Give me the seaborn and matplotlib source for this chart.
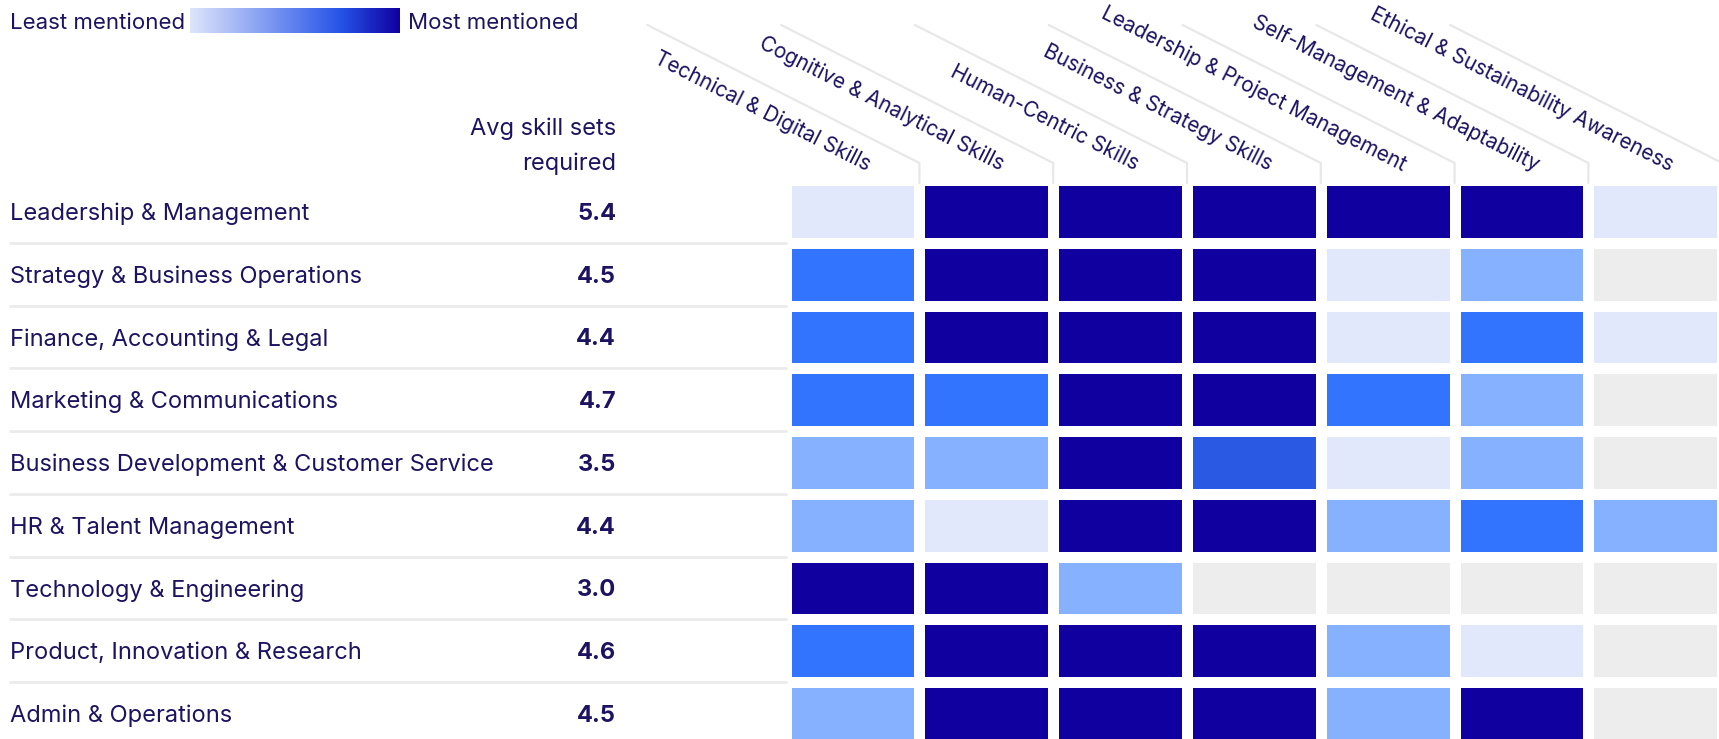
import numpy as np
import pandas as pd
import matplotlib
matplotlib.use("Agg")
import matplotlib.pyplot as plt
import seaborn as sns
from matplotlib.colors import ListedColormap, BoundaryNorm, LinearSegmentedColormap
from matplotlib import transforms
from matplotlib.lines import Line2D

# ---- data -------------------------------------------------------------
job_families = [
    "Leadership & Management",
    "Strategy & Business Operations",
    "Finance, Accounting & Legal",
    "Marketing & Communications",
    "Business Development & Customer Service",
    "HR & Talent Management",
    "Technology & Engineering",
    "Product, Innovation & Research",
    "Admin & Operations",
]
avg_skill_sets = [5.4, 4.5, 4.4, 4.7, 3.5, 4.4, 3.0, 4.6, 4.5]

skill_groups = [
    "Technical & Digital Skills",
    "Cognitive & Analytical Skills",
    "Human-Centric Skills",
    "Business & Strategy Skills",
    "Leadership & Project Management",
    "Self-Management & Adaptability",
    "Ethical & Sustainability Awareness",
]

# mention intensity per job family / skill group: 0 = not mentioned ... 5 = most mentioned
mention_level = [
    [1, 5, 5, 5, 5, 5, 1],
    [3, 5, 5, 5, 1, 2, 0],
    [3, 5, 5, 5, 1, 3, 1],
    [3, 3, 5, 5, 3, 2, 0],
    [2, 2, 5, 4, 1, 2, 0],
    [2, 1, 5, 5, 2, 3, 2],
    [5, 5, 2, 0, 0, 0, 0],
    [3, 5, 5, 5, 2, 1, 0],
    [2, 5, 5, 5, 2, 5, 0],
]

level_colors = ["#EDEDED", "#E2E8FC", "#85B1FF", "#3374FF", "#2A5AE3", "#10009F"]
legend_stops = [(0.0, "#DEE5FB"), (0.72, "#2553E8"), (1.0, "#0F00A0")]

TEXT = "#1C1361"
RULE = "#EBEBEB"

# ---- figure -----------------------------------------------------------
sns.set_theme(style="white")
plt.rcParams["font.family"] = ["Inter", "DejaVu Sans"]

W, H = 1719, 739
fig = plt.figure(figsize=(W / 100, H / 100), dpi=100)
fig.patch.set_facecolor("white")


def fx(px):
    return px / W


def fy(py):
    return 1 - py / H


# heatmap grid
grid_left, grid_right = 785.6, 1722.2
grid_top, grid_bottom = 180.0, 744.8
ax = fig.add_axes([fx(grid_left), fy(grid_bottom),
                   (grid_right - grid_left) / W, (grid_bottom - grid_top) / H])

df = pd.DataFrame(mention_level, index=job_families, columns=skill_groups)
cmap = ListedColormap(level_colors)
norm = BoundaryNorm(np.arange(-0.5, len(level_colors)), cmap.N)
sns.heatmap(df, ax=ax, cmap=cmap, norm=norm, cbar=False,
            linewidths=7.6, linecolor="white",
            xticklabels=False, yticklabels=False)
ax.set_xlabel("")
ax.set_ylabel("")
for s in ax.spines.values():
    s.set_visible(False)

# row labels, averages and separators
row_tf = transforms.blended_transform_factory(fig.transFigure, ax.transData)
for i, (name, avg) in enumerate(zip(job_families, avg_skill_sets)):
    fig.text(fx(10), i + 0.5, name, transform=row_tf, ha="left",
             va="center_baseline", fontsize=17, color=TEXT)
    fig.text(fx(616), i + 0.5, f"{avg:.1f}", transform=row_tf, ha="right",
             va="center_baseline", fontsize=17, fontweight="bold", color=TEXT)
for i in range(1, len(job_families)):
    fig.add_artist(Line2D([fx(10), fx(786)], [i, i], transform=row_tf,
                          color=RULE, lw=2))

fig.text(fx(616), fy(135), "Avg skill sets", ha="right", va="baseline",
         fontsize=17, color=TEXT)
fig.text(fx(616), fy(170), "required", ha="right", va="baseline",
         fontsize=17, color=TEXT)

# slanted column headers
col_tf = transforms.blended_transform_factory(ax.transData, fig.transFigure)
col_tf = transforms.offset_copy(col_tf, fig=fig, x=14, y=0, units="dots")
for j, name in enumerate(skill_groups):
    fig.text(j + 0.5, fy(171), name, transform=col_tf, rotation=-27,
             rotation_mode="anchor", ha="right", va="baseline",
             fontsize=15, color=TEXT)

for j in range(1, len(skill_groups) + 1):
    xb = ax.transData.transform((j, 0))[0]
    xs = [xb - 272, xb, xb]
    ys = [25, 163, 183]
    fig.add_artist(Line2D([fx(v) for v in xs], [fy(v) for v in ys],
                          transform=fig.transFigure, color="#E8E8E8", lw=1.6))

# legend gradient
legend_cmap = LinearSegmentedColormap.from_list("mentions", legend_stops)
lax = fig.add_axes([fx(190), fy(32.7), fx(399 - 190), 25 / H])
lax.imshow(np.linspace(0, 1, 256)[None, :], aspect="auto", cmap=legend_cmap)
lax.axis("off")
fig.text(fx(10), fy(21), "Least mentioned", ha="left", va="center_baseline",
         fontsize=16, color=TEXT)
fig.text(fx(408), fy(21), "Most mentioned", ha="left", va="center_baseline",
         fontsize=16, color=TEXT)

fig.savefig("out.png", dpi=100, facecolor="white")
